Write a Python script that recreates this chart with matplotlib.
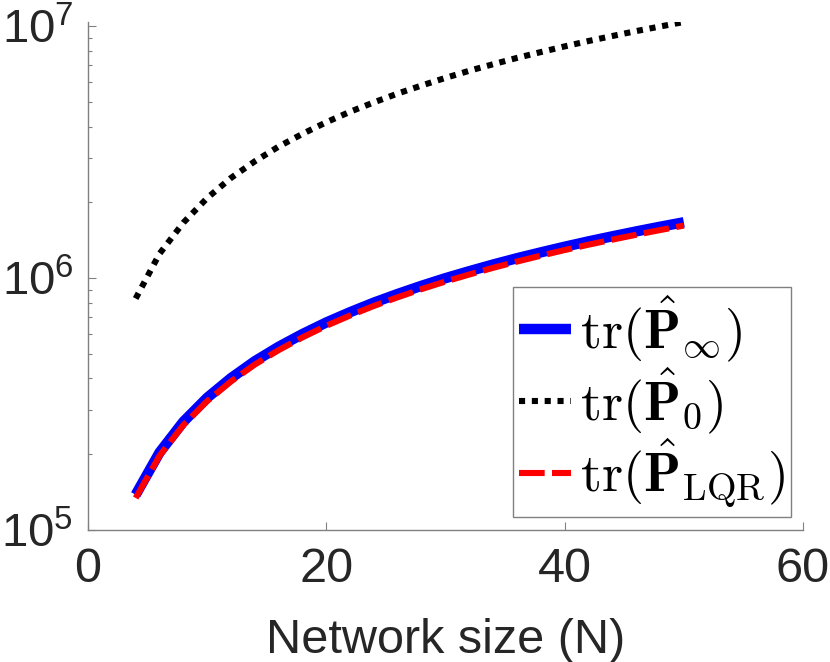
import matplotlib
matplotlib.use("Agg")
import matplotlib.pyplot as plt

plt.rcParams["font.family"] = ["Liberation Sans", "DejaVu Sans"]
plt.rcParams["mathtext.fontset"] = "cm"

# network sizes
N = [4, 6, 8, 10, 12, 14, 16, 18, 20, 22, 24, 26, 28, 30, 32, 34, 36, 38, 40, 42, 44, 46, 48, 50]

# tr(P_inf)
tr_P_inf = [1.38e5, 2.03e5, 2.69e5, 3.35e5, 4.01e5, 4.68e5, 5.34e5, 6.00e5,
            6.67e5, 7.33e5, 8.00e5, 8.66e5, 9.33e5, 1.00e6, 1.066e6, 1.133e6,
            1.20e6, 1.266e6, 1.333e6, 1.40e6, 1.466e6, 1.533e6, 1.60e6, 1.667e6]
# tr(P_0)
tr_P_0 = [8.3e5, 1.25e6, 1.66e6, 2.08e6, 2.50e6, 2.91e6, 3.33e6, 3.74e6,
          4.16e6, 4.58e6, 4.99e6, 5.41e6, 5.82e6, 6.24e6, 6.66e6, 7.07e6,
          7.49e6, 7.90e6, 8.32e6, 8.74e6, 9.15e6, 9.57e6, 9.98e6, 1.04e7]
# tr(P_LQR)
tr_P_lqr = [1.34e5, 1.97e5, 2.61e5, 3.25e5, 3.89e5, 4.54e5, 5.18e5, 5.82e5,
            6.47e5, 7.11e5, 7.76e5, 8.40e5, 9.05e5, 9.70e5, 1.034e6, 1.099e6,
            1.164e6, 1.228e6, 1.293e6, 1.358e6, 1.422e6, 1.487e6, 1.552e6, 1.617e6]

x_ticks = [0, 20, 40, 60]
labels = [r"$\mathrm{tr}(\hat{\mathbf{P}}_{\infty})$",
          r"$\mathrm{tr}(\hat{\mathbf{P}}_{0})$",
          r"$\mathrm{tr}(\hat{\mathbf{P}}_{\mathrm{LQR}})$"]

spine_col = "#808080"
text_col = "#262626"

fig = plt.figure(figsize=(8.3, 6.62), dpi=100)
ax = fig.add_axes([88 / 830, 1 - 530 / 662, (803 - 88) / 830, (530 - 22) / 662])

ax.plot(N, tr_P_inf, color="#0000ff", lw=7.5, solid_capstyle="butt", label=labels[0])
ax.plot(N, tr_P_0, color="black", lw=4.4, linestyle=(0, (1, 1.1)),
        dash_capstyle="butt", label=labels[1])
ax.plot(N, tr_P_lqr, color="#ff0000", lw=4.4, linestyle=(0, (4.2, 1.2)),
        dash_capstyle="butt", label=labels[2])

ax.set_yscale("log")
ax.set_xlim(0, 60)
ax.set_ylim(1e5, max(tr_P_0))
ax.set_xticks(x_ticks)
ax.set_yticks([1e5, 1e6, 1e7])

for side in ["top", "right"]:
    ax.spines[side].set_visible(False)
for side in ["left", "bottom"]:
    ax.spines[side].set_color(spine_col)
    ax.spines[side].set_linewidth(1.0)

ax.tick_params(which="major", direction="in", length=5.5, width=0.8,
               color=spine_col, labelsize=35, labelcolor=text_col)
ax.tick_params(axis="x", pad=12)
ax.tick_params(axis="y", pad=10.5, labelsize=34)
ax.tick_params(which="minor", direction="in", length=3, width=0.8, color=spine_col)
ax.tick_params(axis="x", which="minor", bottom=False)

ax.set_xlabel("Network size (N)", fontsize=35, color=text_col, labelpad=19)

leg = ax.legend(loc="lower right", bbox_to_anchor=(791 / 830, 1 - 517 / 662),
                bbox_transform=fig.transFigure, borderaxespad=0, fontsize=39,
                frameon=True, fancybox=False, framealpha=1, edgecolor=spine_col,
                handlelength=0.95, handletextpad=0.16, labelspacing=0.03,
                borderpad=0.12)
leg.get_frame().set_linewidth(1.0)

fig.savefig("out.png", dpi=100)
